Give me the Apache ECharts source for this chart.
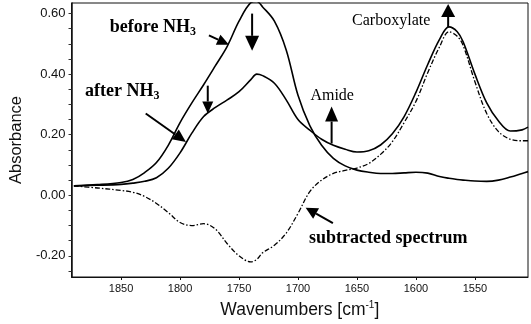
<!DOCTYPE html>
<html>
<head>
<meta charset="utf-8">
<script src="https://cdn.jsdelivr.net/npm/echarts@6/dist/echarts.min.js"></script>
<style>
  html, body { margin: 0; padding: 0; background: #fff; }
  #main { width: 531px; height: 324px; }
</style>
</head>
<body>
<div id="main"></div>
<script>
// wavenumber grid (cm-1)
const wavenumbers = [1890, 1870, 1850, 1840, 1830, 1820, 1810, 1800, 1790, 1780,
  1770, 1760, 1750, 1740, 1735, 1730, 1720, 1710, 1700, 1690,
  1680, 1670, 1660, 1650, 1640, 1630, 1620, 1610, 1600, 1590,
  1580, 1572, 1565, 1560, 1550, 1540, 1530, 1520, 1510, 1505];

const beforeNH3 = [0.031, 0.035, 0.042, 0.052, 0.075, 0.108, 0.165, 0.24, 0.305, 0.365,
  0.428, 0.492, 0.575, 0.636, 0.64, 0.622, 0.575, 0.48, 0.33, 0.23,
  0.165, 0.122, 0.097, 0.083, 0.076, 0.072, 0.072, 0.074, 0.076, 0.073,
  0.062, 0.056, 0.052, 0.05, 0.047, 0.046, 0.05, 0.06, 0.072, 0.078];

const afterNH3 = [0.031, 0.033, 0.036, 0.04, 0.046, 0.058, 0.089, 0.14, 0.205, 0.26,
  0.29, 0.315, 0.342, 0.382, 0.4, 0.395, 0.37, 0.315, 0.25, 0.215,
  0.185, 0.165, 0.152, 0.143, 0.147, 0.166, 0.203, 0.26, 0.34, 0.432,
  0.515, 0.556, 0.54, 0.507, 0.4, 0.305, 0.245, 0.212, 0.216, 0.225];

const subtracted = [0.031, 0.024, 0.016, 0.01, -0.004, -0.027, -0.057, -0.09, -0.1, -0.094,
  -0.112, -0.16, -0.2, -0.22, -0.212, -0.19, -0.165, -0.125, -0.06, 0.012,
  0.05, 0.072, 0.082, 0.09, 0.105, 0.135, 0.177, 0.24, 0.31, 0.405,
  0.49, 0.54, 0.525, 0.495, 0.375, 0.27, 0.21, 0.185, 0.18, 0.18];

const xTicks = [1850, 1800, 1750, 1700, 1650, 1600, 1550];
const yTicks = [-0.2, 0, 0.2, 0.4, 0.6];
const yMinorTicks = [-0.25, -0.2, -0.15, -0.1, -0.05, 0, 0.05, 0.1, 0.15, 0.2,
  0.25, 0.3, 0.35, 0.4, 0.45, 0.5, 0.55, 0.6];

// annotations, in data coordinates
const notes = [
  { text: '{b|before NH}{bs|3}', at: [1823, 0.553] },
  { text: '{b|after NH}{bs|3}', at: [1849, 0.342] },
  { text: '{r|Amide}', at: [1671, 0.329] },
  { text: '{r|Carboxylate}', at: [1621, 0.576] },
  { text: '{b|subtracted spectrum}', at: [1623.5, -0.141] }
];
const arrows = [
  { from: [1775.5, 0.528], to: [1758.5, 0.497], head: [12, 5.5] },
  { from: [1738.9, 0.6], to: [1738.9, 0.477], head: [15, 7] },
  { from: [1829.1, 0.27], to: [1795.0, 0.176], head: [13, 6] },
  { from: [1776.5, 0.362], to: [1776.5, 0.27], head: [12, 5.5] },
  { from: [1671.5, 0.171], to: [1671.5, 0.293], head: [15, 6.5] },
  { from: [1572.7, 0.556], to: [1572.7, 0.632], head: [13, 7] },
  { from: [1670.4, -0.092], to: [1693.5, -0.041], head: [12, 6] }
];

const pairs = function (ys) {
  return wavenumbers.map(function (w, i) { return [w, ys[i]]; });
};

let myChart = echarts.init(document.getElementById('main'));

myChart.setOption({
  animation: false,
  grid: {
    left: 65, right: 3, top: 3, bottom: 45,
    show: true, borderColor: '#111', borderWidth: 1
  },
  xAxis: {
    type: 'value',
    inverse: true,
    min: 1505,
    max: 1892,
    name: 'Wavenumbers [cm{sup|-1}]',
    nameLocation: 'middle',
    nameGap: 23,
    nameTextStyle: {
      fontFamily: 'Liberation Sans', fontSize: 17.5, color: '#111',
      rich: { sup: { fontFamily: 'Liberation Sans', fontSize: 10, color: '#111', padding: [0, 0, 10, 0] } }
    },
    splitLine: { show: false },
    axisLine: { onZero: false, lineStyle: { color: '#111', width: 1 } },
    axisTick: { customValues: xTicks, length: 3, lineStyle: { color: '#111' } },
    axisLabel: {
      customValues: xTicks, margin: 6,
      fontFamily: 'Liberation Sans', fontSize: 11, color: '#111',
      formatter: function (v) { return String(v); }
    }
  },
  yAxis: {
    type: 'value',
    min: -0.27,
    max: 0.635,
    name: 'Absorbance',
    nameLocation: 'middle',
    nameGap: 37,
    nameTextStyle: { fontFamily: 'Liberation Sans', fontSize: 16.5, color: '#111' },
    splitLine: { show: false },
    axisLine: { lineStyle: { color: '#111', width: 1.5 } },
    axisTick: { customValues: yMinorTicks, length: 3, lineStyle: { color: '#333' } },
    axisLabel: {
      customValues: yTicks, margin: 6,
      fontFamily: 'Liberation Sans', fontSize: 13, color: '#111',
      formatter: function (v) { return v.toFixed(2); }
    }
  },
  series: [
    {
      name: 'before NH3', type: 'line', smooth: 0.35, showSymbol: false, silent: true,
      lineStyle: { color: '#000', width: 1.6 },
      data: pairs(beforeNH3)
    },
    {
      name: 'after NH3', type: 'line', smooth: 0.35, showSymbol: false, silent: true,
      lineStyle: { color: '#000', width: 1.6 },
      data: pairs(afterNH3)
    },
    {
      name: 'subtracted spectrum', type: 'line', smooth: 0.35, showSymbol: false, silent: true,
      lineStyle: { color: '#000', width: 1.3, type: [5, 2, 1.5, 2] },
      data: pairs(subtracted)
    }
  ]
});

// annotations drawn after the scales exist
const px = function (p) { return myChart.convertToPixel({ gridIndex: 0 }, p); };
const richStyles = {
  b: { fontFamily: 'Liberation Serif', fontWeight: 'bold', fontSize: 18, fill: '#000' },
  bs: { fontFamily: 'Liberation Serif', fontWeight: 'bold', fontSize: 12, fill: '#000', padding: [8, 0, 0, 0] },
  r: { fontFamily: 'Liberation Serif', fontSize: 16, fill: '#000' }
};
let graphics = [];
notes.forEach(function (n) {
  const p = px(n.at);
  graphics.push({
    type: 'text', x: p[0], y: p[1], silent: true,
    style: { text: n.text, rich: richStyles, align: 'center', verticalAlign: 'middle' }
  });
});
arrows.forEach(function (a) {
  const p0 = px(a.from), p1 = px(a.to);
  const dx = p1[0] - p0[0], dy = p1[1] - p0[1];
  const len = Math.sqrt(dx * dx + dy * dy);
  const ux = dx / len, uy = dy / len;
  const headL = a.head[0], headW = a.head[1];
  const bx = p1[0] - ux * headL, by = p1[1] - uy * headL;
  graphics.push({
    type: 'line', silent: true,
    shape: { x1: p0[0], y1: p0[1], x2: bx, y2: by },
    style: { stroke: '#000', lineWidth: 2 }
  });
  graphics.push({
    type: 'polygon', silent: true,
    shape: { points: [[p1[0], p1[1]], [bx - uy * headW, by + ux * headW], [bx + uy * headW, by - ux * headW]] },
    style: { fill: '#000' }
  });
});
myChart.setOption({ graphic: graphics });
</script>
</body>
</html>
